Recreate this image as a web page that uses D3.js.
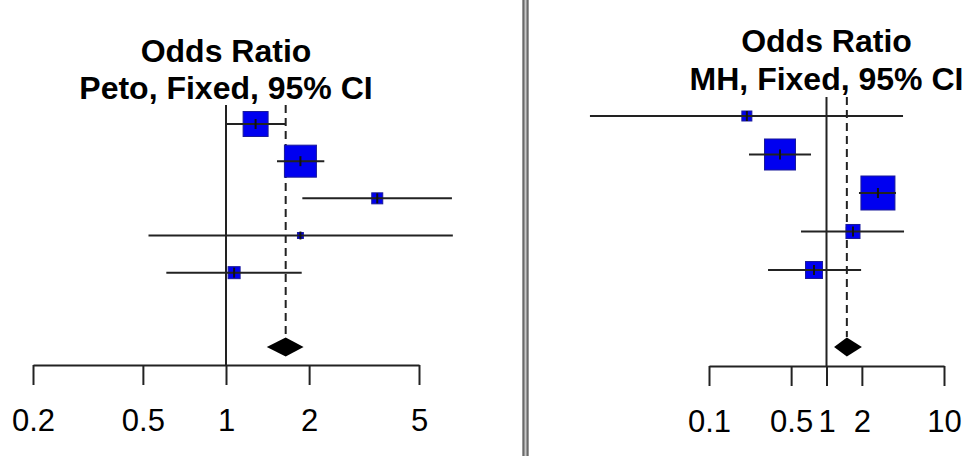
<!DOCTYPE html>
<html>
<head>
<meta charset="utf-8">
<script src="https://cdn.jsdelivr.net/npm/d3@7/dist/d3.min.js"></script>
<style>
  html, body { margin: 0; padding: 0; background: #fff; }
  svg { display: block; }
  text { font-family: "Liberation Sans", Arial, Helvetica, sans-serif; }
</style>
</head>
<body>
<svg id="chart" width="972" height="456"></svg>
<script>
// ---------- data ----------
// Left panel: Peto, Fixed
const leftEst   = [1.28, 1.86, 3.53, 1.86, 1.07];
const leftLower = [1.00, 1.53, 1.89, 0.524, 0.608];
const leftUpper = [1.64, 2.27, 6.58, 6.63, 1.88];
const leftWeight = [32.0, 52.5, 6.2, 1.8, 7.4];
const leftPooled = [1.645, 1.405, 1.91]; // est, lower, upper
const leftTicks = [0.2, 0.5, 1, 2, 5];
const leftTitle = ["Odds Ratio", "Peto, Fixed, 95% CI"];

// Right panel: MH, Fixed
const rightEst   = [0.21, 0.402, 2.74, 1.68, 0.783];
const rightLower = [0.0097, 0.219, 1.89, 0.607, 0.318];
const rightUpper = [4.48, 0.738, 3.90, 4.57, 1.97];
const rightWeight = [3.7, 35.6, 42.8, 7.3, 10.7];
const rightPooled = [1.49, 1.16, 2.0];
const rightTicks = [0.1, 0.5, 1, 2, 10];
const rightTitle = ["Odds Ratio", "MH, Fixed, 95% CI"];

const svg = d3.select("#chart");
const lineCol = "#222";

function panel(cfg) {
  const g = svg.append("g");
  const x = d3.scaleLog().domain(cfg.domain).range(cfg.xrange);
  const y = d3.scaleLinear().domain([1, 7]).range(cfg.yrange);
  const size = d3.scaleSqrt().domain([0, d3.max(cfg.weight)]).range([0, cfg.maxBox]);
  const axisY = cfg.axisY;

  // null line
  g.append("line")
    .attr("x1", x(1)).attr("x2", x(1))
    .attr("y1", cfg.lineTop).attr("y2", axisY)
    .attr("stroke", lineCol).attr("stroke-width", 2);

  // pooled dashed line
  g.append("line")
    .attr("x1", x(cfg.pooled[0])).attr("x2", x(cfg.pooled[0]))
    .attr("y1", cfg.lineTop).attr("y2", y(7) - 10)
    .attr("stroke", lineCol).attr("stroke-width", 2)
    .attr("stroke-dasharray", "8,5");

  const rows = cfg.est.map((e, i) => ({e, lo: cfg.lower[i], hi: cfg.upper[i], w: cfg.weight[i], r: i + 1}));

  // boxes
  g.selectAll("rect.box").data(rows).enter().append("rect")
    .attr("class", "box")
    .attr("x", d => x(d.e) - size(d.w) / 2)
    .attr("y", d => y(d.r) - size(d.w) / 2)
    .attr("width", d => size(d.w))
    .attr("height", d => size(d.w))
    .attr("fill", "#0000f0")
    .attr("stroke", "#1a1a9a").attr("stroke-width", 1);

  // CI lines
  g.selectAll("line.ci").data(rows).enter().append("line")
    .attr("class", "ci")
    .attr("x1", d => x(d.lo)).attr("x2", d => x(d.hi))
    .attr("y1", d => y(d.r)).attr("y2", d => y(d.r))
    .attr("stroke", lineCol).attr("stroke-width", 2);

  // point estimate ticks
  g.selectAll("line.pt").data(rows).enter().append("line")
    .attr("class", "pt")
    .attr("x1", d => x(d.e)).attr("x2", d => x(d.e))
    .attr("y1", d => y(d.r) - Math.min(5, size(d.w) / 2 + 1))
    .attr("y2", d => y(d.r) + Math.min(5, size(d.w) / 2 + 1))
    .attr("stroke", "#111").attr("stroke-width", 2);

  // pooled diamond
  const py = y(7);
  const dh = 9.5;
  g.append("path")
    .attr("d", d3.line()([
      [x(cfg.pooled[1]), py],
      [x(cfg.pooled[0]), py - dh],
      [x(cfg.pooled[2]), py],
      [x(cfg.pooled[0]), py + dh]
    ]) + "Z")
    .attr("fill", "#000");

  // axis
  const ax = d3.axisBottom(x)
    .tickValues(cfg.ticks)
    .tickFormat(d3.format("~g"))
    .tickSize(20).tickSizeOuter(0).tickPadding(24);
  const axg = g.append("g").attr("transform", `translate(0,${axisY})`).call(ax);
  axg.select(".domain").attr("stroke", lineCol).attr("stroke-width", 2);
  axg.selectAll(".tick line").attr("stroke", lineCol).attr("stroke-width", 2);
  axg.selectAll(".tick text")
    .attr("font-size", 31).attr("fill", "#000")
    .style("font-family", '"Liberation Sans", Arial, sans-serif');

  // titles
  cfg.title.forEach((t, i) => {
    g.append("text")
      .attr("x", x(1)).attr("y", cfg.titleY[i])
      .attr("text-anchor", "middle")
      .attr("font-size", 32).attr("font-weight", "bold")
      .attr("fill", "#000")
      .text(t);
  });
}

panel({
  domain: [0.2, 5], xrange: [33, 419], yrange: [124, 347],
  est: leftEst, lower: leftLower, upper: leftUpper, weight: leftWeight,
  pooled: leftPooled, ticks: leftTicks, title: leftTitle,
  maxBox: 32, axisY: 365, lineTop: 105, titleY: [62, 99]
});

panel({
  domain: [0.1, 10], xrange: [709, 944], yrange: [116, 347],
  est: rightEst, lower: rightLower, upper: rightUpper, weight: rightWeight,
  pooled: rightPooled, ticks: rightTicks, title: rightTitle,
  maxBox: 34, axisY: 366, lineTop: 97, titleY: [52, 90]
});

// separator (double line)
svg.append("rect").attr("x", 522).attr("y", 0).attr("width", 7).attr("height", 456).attr("fill", "#c8c8c8");
[523.5, 527.5].forEach(xx => {
  svg.append("line").attr("x1", xx).attr("x2", xx).attr("y1", 0).attr("y2", 456)
    .attr("stroke", "#6a6a6a").attr("stroke-width", 2);
});
</script>
</body>
</html>
